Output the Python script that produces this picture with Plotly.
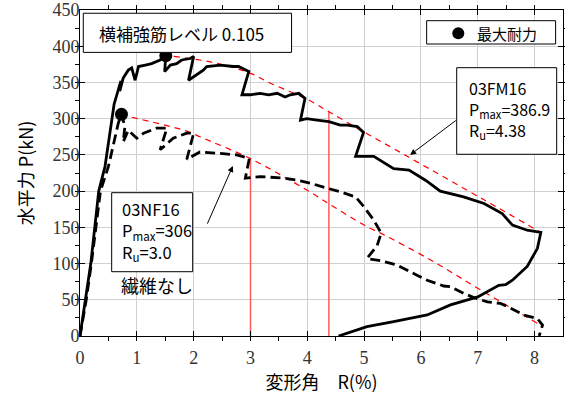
import plotly.graph_objects as go

# 03FM16 (solid) : drift R (%) and load P (kN)
fm_r = [0, 0.10, 0.19, 0.26, 0.33, 0.44, 0.52, 0.60, 0.675, 0.72, 0.70, 0.76, 0.85, 0.91, 0.97,
        1.03, 1.15, 1.26, 1.41, 1.51, 1.49, 1.59, 1.70, 1.79, 1.94, 2.00, 1.91, 2.03, 2.17,
        2.23, 2.47, 2.70, 2.79, 2.97, 2.85, 3.00, 3.17, 3.32, 3.47, 3.61, 3.70, 3.85, 3.96,
        3.88, 3.99, 4.17, 4.38, 4.58, 4.70, 4.88, 4.99, 4.85, 5.17, 5.52, 5.79, 6.08, 6.34,
        6.75, 7.11, 7.43, 7.61, 7.87, 8.11, 8.05, 7.87, 7.61, 7.49, 7.37, 7.17, 7.00, 6.52,
        6.11, 5.52, 5.05, 4.55]
fm_p = [0, 50, 100, 150, 200, 234, 280, 320, 340, 352, 338, 356, 367, 370, 353,
        372, 374, 376, 381, 386.9, 365, 374, 376, 381, 383, 386, 353, 360, 367,
        372, 374, 372, 372, 365, 333, 333, 335, 333, 335, 330, 333, 335, 328,
        298, 300, 298, 296, 291, 291, 289, 281, 248, 248, 231, 229, 215, 200,
        192, 183, 169, 153, 146, 143, 121, 96, 77, 71, 70, 61, 54, 43,
        29, 20, 13, 0]

# 03NF16 (dashed)
nf_r = [0, 0.11, 0.20, 0.28, 0.36, 0.50, 0.60, 0.675, 0.73, 0.79, 0.76, 0.85, 1.00, 1.12,
        1.35, 1.53, 1.41, 1.64, 1.88, 2.00, 1.88, 2.11, 2.47, 2.76, 2.98, 2.91, 3.17, 3.58,
        3.82, 4.05, 4.35, 4.58, 4.85, 4.99, 5.17, 5.30, 5.23, 5.05, 5.29, 5.58, 5.93, 6.11,
        6.40, 6.52, 6.75, 6.93, 7.17, 7.40, 7.64, 7.81, 8.05, 8.14, 8.08]
nf_p = [0, 50, 100, 150, 200, 234, 270, 294, 306, 289, 268, 284, 273, 280,
        287, 287, 257, 273, 280, 280, 244, 254, 252, 250, 245, 218, 220, 218,
        215, 211, 204, 199, 192, 179, 160, 142, 125, 107, 104, 98, 84, 77,
        69, 68, 59, 53, 47, 45, 36, 29, 24, 15, 0]

# envelopes (red dashed)
env_fm_r = [1.65, 2.11, 2.53, 3.00, 3.35, 4.02, 4.38, 4.99, 5.76, 7.11, 8.11]
env_fm_p = [386, 381, 374, 362.6, 349, 326, 309.5, 282, 248, 188, 143]
env_nf_r = [0.91, 1.91, 2.11, 3.00, 3.99, 4.41, 5.05, 5.29, 6.17, 7.05, 8.05]
env_nf_p = [302, 282, 275, 244.8, 201.5, 181, 151, 142, 105, 63.5, 17.5]

# maximum strength points
max_r = [1.51, 0.73]
max_p = [386.9, 306]

# ultimate drift (80% of Pmax)
ru = [3.0, 4.38]
ru_p = [0.8 * 306, 0.8 * 386.9]

x_ticks = [0, 1, 2, 3, 4, 5, 6, 7, 8]
y_ticks = [0, 50, 100, 150, 200, 250, 300, 350, 400, 450]

JP = "Noto Sans CJK JP"
SERIF = "Liberation Serif, DejaVu Serif, serif"

fig = go.Figure()

for r, p in zip(ru, ru_p):
    fig.add_trace(go.Scatter(x=[r, r], y=[0, p], mode="lines",
                             line=dict(color="#ff5a5a", width=1.5), showlegend=False, hoverinfo="skip"))

fig.add_trace(go.Scatter(x=env_fm_r, y=env_fm_p, mode="lines", line_shape="spline",
                         line=dict(color="#ff0000", width=1.2, dash="6px,5px"), showlegend=False))
fig.add_trace(go.Scatter(x=env_nf_r, y=env_nf_p, mode="lines", line_shape="spline",
                         line=dict(color="#ff0000", width=1.2, dash="6px,5px"), showlegend=False))

fig.add_trace(go.Scatter(x=fm_r, y=fm_p, mode="lines",
                         line=dict(color="black", width=2.8), showlegend=False))
fig.add_trace(go.Scatter(x=nf_r, y=nf_p, mode="lines",
                         line=dict(color="black", width=2.8, dash="10px,5px"), showlegend=False))
fig.add_trace(go.Scatter(x=max_r, y=max_p, mode="markers",
                         marker=dict(color="black", size=13), showlegend=False))

axis_common = dict(showgrid=True, gridcolor="#d0d0d0", gridwidth=1, zeroline=False,
                   showline=True, linecolor="black", linewidth=1, mirror="ticks",
                   ticks="inside", ticklen=5, tickcolor="black", automargin=False,
                   ticklabeloverflow="allow",
                   tickfont=dict(family=SERIF, size=18, color="#333"))

fig.update_xaxes(range=[0, 8.5], tickvals=x_ticks, ticklabelstandoff=5, **axis_common,
                 minor=dict(dtick=0.5, ticks="outside", ticklen=4, tickcolor="black", showgrid=False),
                 title=dict(text="変形角　R(%)", font=dict(family=JP, size=18, color="black"), standoff=10))
fig.update_yaxes(range=[0, 450], tickvals=y_ticks, ticklabelstandoff=-4, **axis_common,
                 minor=dict(dtick=25, ticks="outside", ticklen=4, tickcolor="black", showgrid=False),
                 title=dict(text="水平力 P(kN)", font=dict(family=JP, size=18, color="black"), standoff=14))

shapes = [
    dict(type="rect", xref="paper", yref="paper", x0=0.0068, x1=0.438, y0=0.870, y1=0.990,
         line=dict(color="black", width=1), fillcolor="white"),
    dict(type="rect", xref="paper", yref="paper", x0=0.7177, x1=0.9847, y0=0.8957, y1=0.9672,
         line=dict(color="black", width=1), fillcolor="white"),
    dict(type="rect", xref="paper", yref="paper", x0=0.7799, x1=0.9869, y0=0.5574, y1=0.8230,
         line=dict(color="black", width=1), fillcolor="white"),
    dict(type="rect", xref="paper", yref="paper", x0=0.0656, x1=0.2333, y0=0.1972, y1=0.4396,
         line=dict(color="black", width=1), fillcolor="white"),
    dict(type="circle", xref="paper", yref="paper", xsizemode="pixel", ysizemode="pixel",
         xanchor=0.7832, yanchor=0.9285, x0=-6, x1=6, y0=-6, y1=6,
         line=dict(color="black", width=0), fillcolor="black"),
]

annotations = [
    dict(text="横補強筋レベル 0.105", xref="paper", yref="paper", x=0.2106, y=0.9285,
         xanchor="center", yanchor="middle",
         showarrow=False, font=dict(family=JP, size=17, color="black")),
    dict(text="最大耐力", xref="paper", yref="paper", x=0.8175, y=0.9285,
         xanchor="left", yanchor="middle",
         showarrow=False, font=dict(family=JP, size=15, color="black")),
    dict(text="03FM16<br>P<sub>max</sub>=386.9<br>R<sub>u</sub>=4.38", xref="paper", yref="paper",
         x=0.8019, y=0.6957, xanchor="left", yanchor="middle", align="left",
         showarrow=False, font=dict(family=JP, size=16, color="black")),
    dict(text="03NF16<br>P<sub>max</sub>=306<br>R<sub>u</sub>=3.0", xref="paper", yref="paper",
         x=0.0828, y=0.3221, xanchor="left", yanchor="middle", align="left",
         showarrow=False, font=dict(family=JP, size=16.5, color="black")),
    dict(text="繊維なし", xref="paper", yref="paper", x=0.1584, y=0.1564,
         xanchor="center", yanchor="middle",
         showarrow=False, font=dict(family=JP, size=18, color="black")),
    dict(x=5.81, y=250, ax=6.64, ay=299, xref="x", yref="y", axref="x", ayref="y",
         text="", showarrow=True, arrowhead=2, arrowsize=1.2, arrowwidth=1, arrowcolor="black"),
    dict(x=2.69, y=234.7, ax=2.23, ay=153, xref="x", yref="y", axref="x", ayref="y",
         text="", showarrow=True, arrowhead=2, arrowsize=1.2, arrowwidth=1, arrowcolor="black"),
]

fig.update_layout(width=565, height=394, margin=dict(l=80, r=2, t=10, b=58),
                  plot_bgcolor="white", paper_bgcolor="white", hovermode=False,
                  shapes=shapes, annotations=annotations, showlegend=False)

# remove the default 8px page margin so the figure fills the window exactly
fig.write_html("out.html", config={"displayModeBar": False},
               post_script="document.body.style.margin='0';")
